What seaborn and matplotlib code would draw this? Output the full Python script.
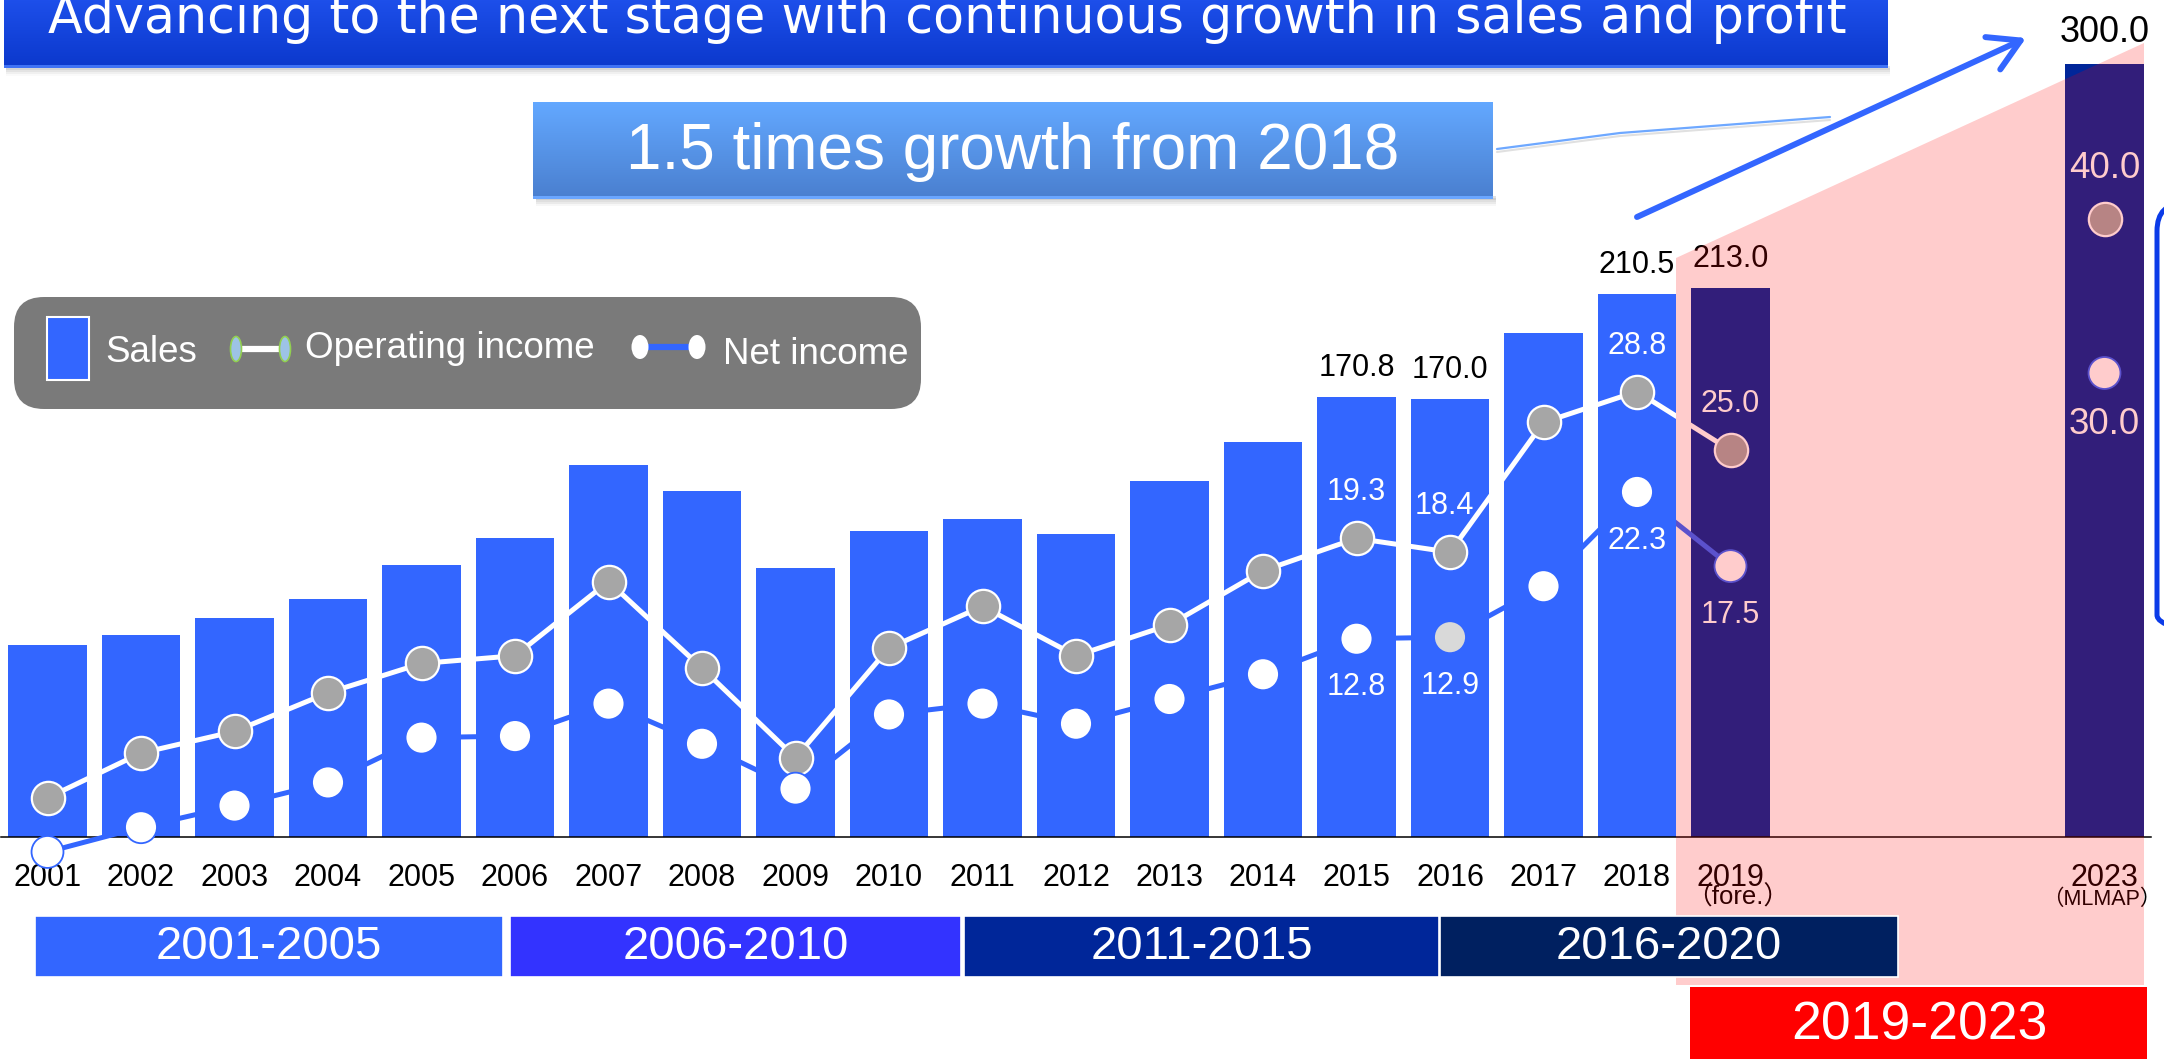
import numpy as np
import pandas as pd
import matplotlib
matplotlib.use("Agg")
import matplotlib.pyplot as plt
import seaborn as sns
from matplotlib.patches import Rectangle, FancyBboxPatch, Ellipse, Polygon
from matplotlib.colors import LinearSegmentedColormap

# ---------------- data ----------------
years = [str(y) for y in range(2001, 2024)]          # 23 slots on the axis
series_years = [str(y) for y in range(2001, 2020)] + ["2023"]
sales = [74.3, 78.4, 84.9, 92.4, 105.4, 115.9, 144.2, 134.3, 104.4, 118.5,
         123.3, 117.5, 138.2, 153.1, 170.8, 170.0, 195.4, 210.5, 213.0, 300.0]
op_income = [2.5, 5.4, 6.8, 9.3, 11.2, 11.7, 16.5, 10.9, 5.1, 12.2,
             14.9, 11.7, 13.7, 17.2, 19.3, 18.4, 26.8, 28.8, 25.0, 40.0]
net_income = [-1.0, 0.6, 2.0, 3.5, 6.4, 6.5, 8.6, 6.0, 3.1, 7.9,
              8.6, 7.3, 8.9, 10.5, 12.8, 12.9, 16.2, 22.3, 17.5, 30.0]
plan_years = ["2019", "2023"]
labelled_years = ["2015", "2016", "2018", "2019", "2023"]
sub_labels = {"2019": "（fore.）", "2023": "（MLMAP）"}
periods = ["2001-2005", "2006-2010", "2011-2015", "2016-2020"]
plan_period = "2019-2023"
title = "Advancing to the next stage with continuous growth in sales and profit"
callout = "1.5 times growth from 2018"
legend_labels = ["Sales", "Operating income", "Net income"]

# ---------------- style ----------------
sns.set_theme(style="white")
plt.rcParams["font.family"] = ["Liberation Sans", "Noto Sans CJK JP", "DejaVu Sans"]

W, H = 2164, 1059
BLUE = "#3366ff"
fig = plt.figure(figsize=(W / 100, H / 100), dpi=100)

base_px = 836.5          # y pixel (from top) of the zero line
ppu = 2.575              # pixels per sales unit
left_px, slot_px = 0.75, 93.5
ax = fig.add_axes([left_px / W, 0, 23 * slot_px / W, 1])
ax.patch.set_alpha(0)

df = pd.DataFrame({"year": series_years, "sales": sales})
palette = {y: ("#002699" if y in plan_years else BLUE) for y in series_years}
sns.barplot(data=df, x="year", y="sales", order=years, hue="year", palette=palette,
            legend=False, width=0.84, saturation=1, linewidth=0, ax=ax)

ylo, yhi = -(H - base_px) / ppu, base_px / ppu
ax.set_xlim(-0.5, 22.5)
ax.set_ylim(ylo, yhi)
for s in ["left", "right", "top"]:
    ax.spines[s].set_visible(False)
ax.spines["bottom"].set_position(("data", 0))
ax.spines["bottom"].set_color("black")
ax.spines["bottom"].set_linewidth(1.1)
ax.set_xticks(range(len(years)))
ax.set_xticklabels([y if y in series_years else "" for y in years])
ax.set_xticks(np.arange(-0.5, len(years), 1), minor=True)
ax.tick_params(axis="x", which="major", length=0, pad=19, labelsize=22, labelcolor="black")
ax.tick_params(axis="x", which="minor", direction="in", length=7.2, width=1.1, color="black")
ax.set_yticks([])
ax.set_xlabel("")
ax.set_ylabel("")

sub_style = {"2019": (0.08, 18.5), "2023": (-0.03, 15.5)}
for y, txt in sub_labels.items():
    dx, fs = sub_style[y]
    ax.text(years.index(y) + dx, -(905 - base_px) / ppu, txt, ha="center", va="baseline",
            fontsize=fs, color="black", family=["Liberation Sans", "Noto Sans CJK JP"])

pos = [years.index(y) for y in series_years]
for y, v in zip(series_years, sales):
    if y in labelled_years:
        big = y == "2023"
        ax.annotate(f"{v:.1f}", xy=(years.index(y), v), xytext=(0, 23 if big else 21),
                    textcoords="offset points", ha="center", va="center",
                    fontsize=26 if big else 22, color="black")

ax2 = ax.twinx()
ax2.set_ylim(ylo / 6, yhi / 6)
for s in ax2.spines.values():
    s.set_visible(False)
ax2.set_yticks([])
ax2.patch.set_alpha(0)

n_hist = series_years.index("2019") + 1
sns.lineplot(x=pos[:n_hist], y=op_income[:n_hist], ax=ax2, color="white", lw=3.6,
             sort=False, zorder=2, legend=False)
ax2.scatter(pos, op_income, s=24 ** 2, c="#a6a6a6", edgecolors="white", linewidths=1.6, zorder=3)
sns.lineplot(x=pos[:n_hist], y=net_income[:n_hist], ax=ax2, color=BLUE, lw=3.6,
             sort=False, zorder=4, legend=False)
ni_face = ["#d9d9d9" if y == "2016" else "white" for y in series_years]
ax2.scatter(pos, net_income, s=23 ** 2, c=ni_face, edgecolors=BLUE, linewidths=1.3, zorder=5)
ax2.set_xlim(-0.5, 22.5)

for y, oi, ni in zip(series_years, op_income, net_income):
    if y in labelled_years:
        i = years.index(y)
        fs = 26.5 if y == "2023" else 22
        dx = -4 if y == "2016" else 0
        ax2.annotate(f"{oi:.1f}", xy=(i, oi), xytext=(dx, 33 if y != "2023" else 36),
                     textcoords="offset points", ha="center", va="center",
                     fontsize=fs, color="white", zorder=6)
        ax2.annotate(f"{ni:.1f}", xy=(i, ni), xytext=(0, -35 if y != "2023" else -37),
                     textcoords="offset points", ha="center", va="center",
                     fontsize=fs, color="white", zorder=6)

# ---------------- decorations in pixel space ----------------
axo = fig.add_axes([0, 0, 1, 1], zorder=10)
axo.patch.set_alpha(0)
axo.axis("off")

def grad(x0, x1, y0, y1, c_top, c_bot, z):
    cmap = LinearSegmentedColormap.from_list("g", [c_top, c_bot])
    g = np.linspace(0, 1, 64).reshape(-1, 1)
    axo.imshow(g, cmap=cmap, extent=[x0, x1, y1, y0], aspect="auto", zorder=z,
               interpolation="bilinear")

# title banner with shadow
for k, a in enumerate([0.10, 0.07, 0.04, 0.02]):
    axo.add_patch(Rectangle((6, 66 + 2 * k), 1884, 4, fc="black", alpha=a, lw=0, zorder=1))
grad(4, 1888, 0, 68, "#1d4fea", "#0b38cc", 2)
axo.add_patch(Rectangle((4, 65), 1884, 3, fc="#3f72f5", lw=0, zorder=2.5))
axo.text(947, 32.5, title, ha="center", va="baseline", fontsize=36.5, color="white",
         family="DejaVu Sans", zorder=3)

# callout box
for k, a in enumerate([0.12, 0.08, 0.05, 0.03]):
    axo.add_patch(Rectangle((536, 196 + 2 * k), 960, 4, fc="black", alpha=a, lw=0, zorder=1))
grad(533, 1493, 102, 199, "#63a8ff", "#4a7fcf", 2)
axo.add_patch(Rectangle((533, 196), 960, 3, fc="#6aa6ff", lw=0, zorder=2.5))
axo.text(1013, 152, callout, ha="center", va="center", fontsize=46, color="white", zorder=3)
axo.plot([1497, 1620, 1830], [152, 136, 120], color="#cccccc", lw=1.5, alpha=0.6, zorder=1)
axo.plot([1497, 1620, 1830], [149, 133, 117], color="#6ea8ff", lw=1.6, zorder=2)

# growth arrow
axo.annotate("", xy=(2026, 38), xytext=(1637, 217),
             arrowprops=dict(arrowstyle="->,head_length=0.55,head_width=0.32",
                             color=BLUE, lw=4.3, mutation_scale=40,
                             shrinkA=0, shrinkB=0), zorder=4)

# legend
axo.add_patch(FancyBboxPatch((14, 297), 907, 112, boxstyle="round,pad=0,rounding_size=30",
                             fc="#7a7a7a", ec="none", zorder=2))
axo.add_patch(Rectangle((47, 317), 42, 63, fc=BLUE, ec="white", lw=1.5, zorder=3))
axo.text(105, 352, legend_labels[0], ha="left", va="center", fontsize=26.5, color="white", zorder=3)
axo.plot([236, 285], [349, 349], color="white", lw=4.5, zorder=3)
for xx in (236, 285):
    axo.add_patch(Ellipse((xx, 349), 11, 25, fc="#9dc3e6", ec="#92d050", lw=1.2, zorder=4))
axo.text(305, 349, legend_labels[1], ha="left", va="center", fontsize=26.5, color="white", zorder=3)
axo.plot([640, 697], [347, 347], color=BLUE, lw=4.5, zorder=3)
for xx in (640, 697):
    axo.add_patch(Ellipse((xx, 347), 17, 24, fc="white", ec="none", zorder=4))
axo.text(723, 354, legend_labels[2], ha="left", va="center", fontsize=26.5, color="white", zorder=3)

# plan-period overlay (translucent red)
axo.add_patch(Polygon([(1676, 258), (2144, 43), (2144, 985), (1676, 985)],
                      closed=True, fc=(1, 0, 0, 0.2), ec="none", zorder=6))

# period boxes
box_x = [(35, 503), (510, 961), (964, 1439), (1440, 1898)]
box_c = ["#3366ff", "#3333ff", "#002699", "#002060"]
for (x0, x1), c, lab in zip(box_x, box_c, periods):
    axo.add_patch(Rectangle((x0, 916), x1 - x0, 61, fc=c, ec="white", lw=1.2, zorder=7))
    axo.text((x0 + x1) / 2, 947, lab, ha="center", va="center", fontsize=34,
             color="white", zorder=8)
axo.add_patch(Rectangle((1690, 987), 457, 80, fc="#ff0000", ec="none", zorder=7))
axo.text(1919, 1025, plan_period, ha="center", va="center", fontsize=38.5, color="white", zorder=8)

# partial rounded frame on the right edge
axo.add_patch(FancyBboxPatch((2157, 203), 300, 440, boxstyle="round,pad=0,rounding_size=28",
                             fc="none", ec="#0b3be8", lw=3.6, zorder=3))

axo.set_xlim(0, W)
axo.set_ylim(H, 0)

fig.savefig("out.png", dpi=100)
